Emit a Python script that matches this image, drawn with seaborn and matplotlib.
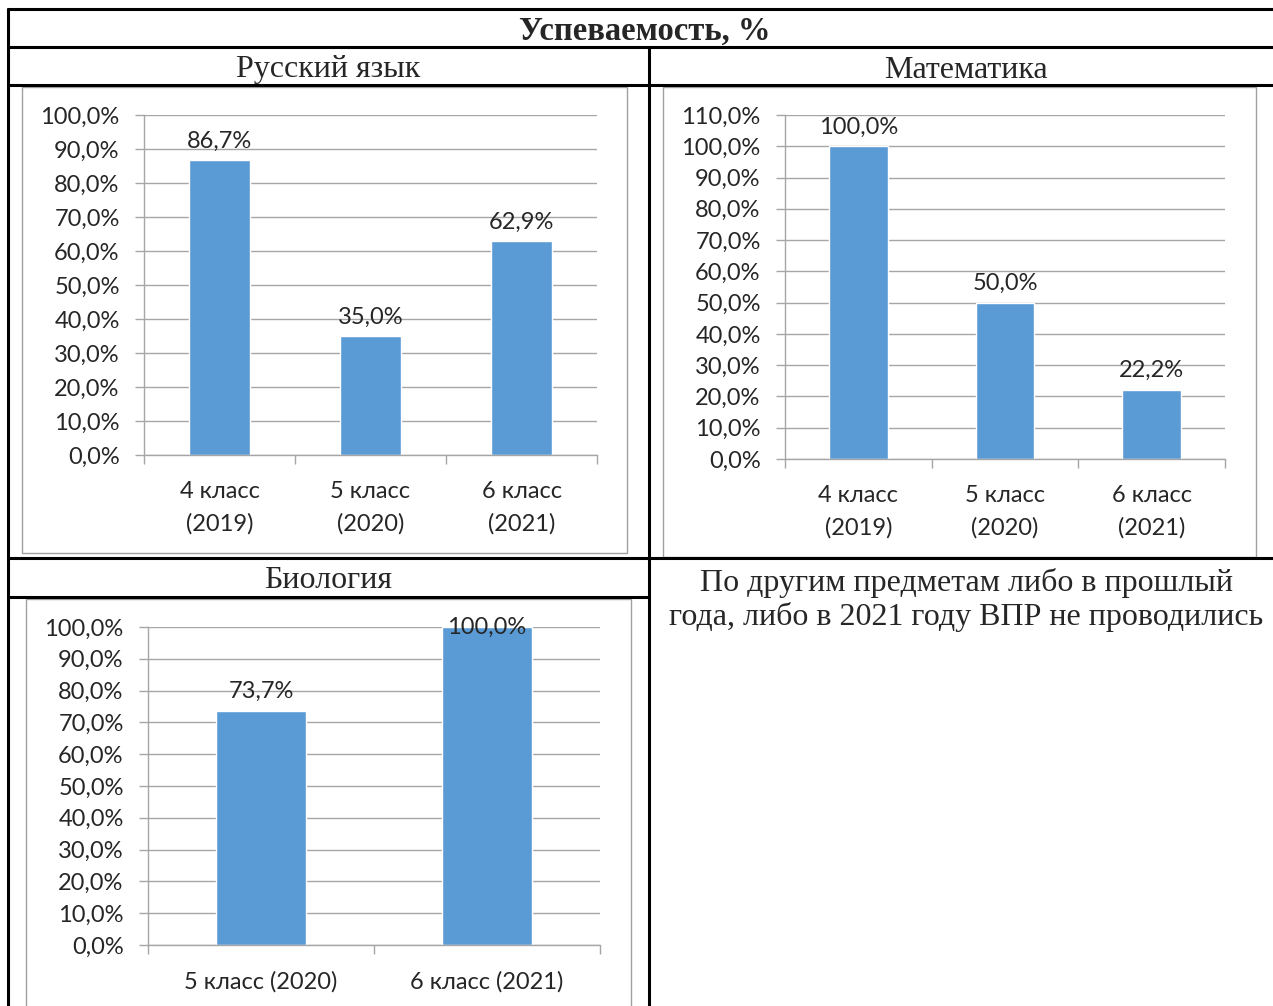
import matplotlib
matplotlib.use('Agg')
import matplotlib.pyplot as plt
import seaborn as sns
import pandas as pd
from matplotlib.lines import Line2D
from matplotlib.patches import Rectangle
from matplotlib.ticker import FuncFormatter, MultipleLocator

W, H = 1273, 1006

# данные
title = 'Успеваемость, %'
rus_classes = ['4 класс\n(2019)', '5 класс\n(2020)', '6 класс\n(2021)']
rus_values = [86.7, 35.0, 62.9]
math_classes = ['4 класс\n(2019)', '5 класс\n(2020)', '6 класс\n(2021)']
math_values = [100.0, 50.0, 22.2]
bio_classes = ['5 класс (2020)', '6 класс (2021)']
bio_values = [73.7, 100.0]
note = 'По другим предметам либо в прошлый\nгода, либо в 2021 году ВПР не проводились'

sns.set_theme(style='white')
plt.rcParams['font.family'] = ['Lato', 'DejaVu Sans']
serif = 'Liberation Serif'
bar_color = '#5b9bd5'
grid_color = '#a6a6a6'
fs = 17

fig = plt.figure(figsize=(W / 100, H / 100), dpi=100)


def px_axes(l, t, r, b):
    return fig.add_axes([l / W, 1 - b / H, (r - l) / W, (b - t) / H])


def fx(x):
    return x / W


def fy(y):
    return 1 - y / H


def hline(y, x0, x1):
    fig.add_artist(Line2D([fx(x0), fx(x1)], [fy(y), fy(y)], color='black', lw=2.2))


def vline(x, y0, y1):
    fig.add_artist(Line2D([fx(x), fx(x)], [fy(y0), fy(y1)], color='black', lw=2.2))


def frame(l, t, r, b):
    fig.add_artist(Rectangle((fx(l), fy(b)), fx(r - l), (b - t) / H, fill=False,
                             edgecolor='#a0a0a0', lw=1.0, transform=fig.transFigure))


def pct(v, pos=None):
    return f'{v:.1f}%'.replace('.', ',')


def bar_chart(ax, cats, vals, ymax):
    df = pd.DataFrame({'cat': cats, 'val': vals})
    sns.barplot(data=df, x='cat', y='val', color=bar_color, width=0.4,
                saturation=1, ax=ax, zorder=2)
    ax.set_ylim(0, ymax)
    ax.set_xlim(-0.5, len(cats) - 0.5)
    ax.yaxis.set_major_locator(MultipleLocator(10))
    ax.yaxis.set_major_formatter(FuncFormatter(pct))
    ax.grid(axis='y', color=grid_color, lw=1.0, zorder=0)
    ax.set_axisbelow(True)
    for s in ['top', 'right']:
        ax.spines[s].set_visible(False)
    ax.spines['left'].set_color(grid_color)
    ax.spines['bottom'].set_color(grid_color)
    ax.spines['left'].set_linewidth(1.0)
    ax.spines['bottom'].set_linewidth(1.0)
    ax.set_xlabel('')
    ax.set_ylabel('')
    # деления между категориями
    ax.set_xticks([i - 0.5 for i in range(len(cats) + 1)], minor=True)
    ax.tick_params(axis='x', which='minor', length=6.5, width=1, color=grid_color, direction='out', bottom=True)
    ax.tick_params(axis='x', which='major', length=0, labelsize=fs, pad=18.5)
    ax.tick_params(axis='y', length=6.5, width=1, color=grid_color, direction='out', left=True,
                   labelsize=fs, pad=11)
    for lab in ax.get_xticklabels():
        lab.set_linespacing(1.65)
    for i, v in enumerate(vals):
        if v >= ymax:
            ax.text(i, v, pct(v), ha='center', va='center', fontsize=fs, zorder=3)
        else:
            ax.annotate(pct(v), (i, v), xytext=(0, 6), textcoords='offset points',
                        ha='center', va='bottom', fontsize=fs, zorder=3)


# рамки диаграмм
frame(22, 87, 627, 553)
frame(663, 87, 1256, 557)
frame(26, 599, 631, 1012)

ax1 = px_axes(144, 115, 597, 455)
bar_chart(ax1, rus_classes, rus_values, 100)
ax2 = px_axes(785, 115, 1225, 459)
bar_chart(ax2, math_classes, math_values, 110)
ax3 = px_axes(148, 627, 600, 945)
bar_chart(ax3, bio_classes, bio_values, 100)

# таблица
hline(9, 8, 1273)
hline(47, 8, 1273)
hline(85, 8, 1273)
hline(558, 8, 1273)
hline(597, 8, 649)
vline(8, 9, 1006)
vline(649, 47, 1006)

fig.text(fx(645), fy(31), title, ha='center', va='center', fontsize=23.5,
         fontweight='bold', family=serif)
fig.text(fx(328), fy(70), 'Русский язык', ha='center', va='center', fontsize=23, family=serif)
fig.text(fx(966), fy(70), 'Математика', ha='center', va='center', fontsize=23, family=serif)
fig.text(fx(328), fy(581), 'Биология', ha='center', va='center', fontsize=23, family=serif)
fig.text(fx(966), fy(600), note, ha='center', va='center', fontsize=23, family=serif,
         linespacing=1.15)

fig.savefig('out.png', dpi=100)
